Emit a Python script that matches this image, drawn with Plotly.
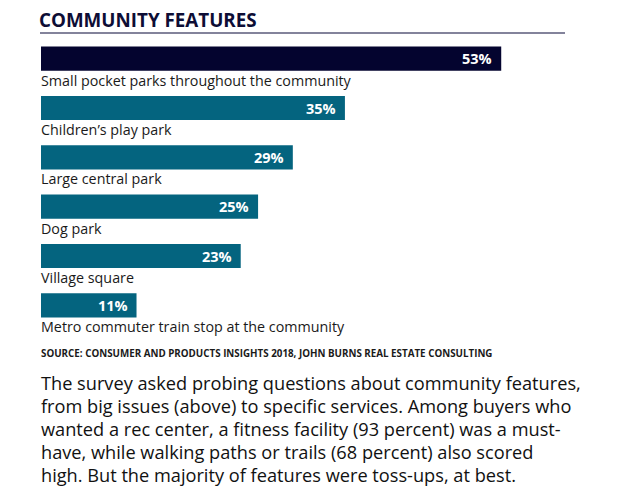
import plotly.graph_objects as go

categories = [
    "Small pocket parks throughout the community",
    "Children\u2019s play park",
    "Large central park",
    "Dog park",
    "Village square",
    "Metro commuter train stop at the community",
]
values = [53, 35, 29, 25, 23, 11]
value_labels = ["53%", "35%", "29%", "25%", "23%", "11%"]
bar_colors = ["#04042f", "#04647f", "#04647f", "#04647f", "#04647f", "#04647f"]

title_text = "COMMUNITY FEATURES"
source_text = "SOURCE: CONSUMER AND PRODUCTS INSIGHTS 2018, JOHN BURNS REAL ESTATE CONSULTING"
paragraph_lines = [
    "The survey asked probing questions about community features,",
    "from big issues (above) to specific services. Among buyers who",
    "wanted a rec center, a fitness facility (93 percent) was a must-",
    "have, while walking paths or trails (68 percent) also scored",
    "high. But the majority of features were toss-ups, at best.",
]

FONT = "Open Sans"
OFF = 8  # page body margin
W, H = 618, 495
ml, mr, mt, mb = 33, 64, 26, 173
pw = W - ml - mr
ph = H - mt - mb

ys = list(range(len(categories)))

fig = go.Figure(go.Bar(
    x=values, y=ys, orientation="h",
    marker=dict(color=bar_colors, line=dict(width=0)),
    width=0.49,
    hoverinfo="skip",
))

annotations = []
for y, c, v, t in zip(ys, categories, values, value_labels):
    annotations.append(dict(
        x=0, y=y, xref="x", yref="y", text=c, showarrow=False,
        xanchor="left", yanchor="middle", yshift=-21.5, xshift=-2,
        font=dict(family=FONT, size=14.3, color="#1a1a1a"),
    ))
    annotations.append(dict(
        x=v, y=y, xref="x", yref="y", text="<b>" + t + "</b>", showarrow=False,
        xanchor="right", yanchor="middle", xshift=-7, yshift=0,
        font=dict(family=FONT, size=14.5, color="white"),
    ))

def px_x(p):
    return (p - OFF - ml) / pw

def px_y(p):
    return 1 - (p - OFF - mt) / ph

annotations.append(dict(
    x=px_x(38), y=px_y(20), xref="paper", yref="paper", text="<b>" + title_text + "</b>",
    showarrow=False, xanchor="left", yanchor="middle", borderpad=0,
    font=dict(family=FONT, size=18.8, color="#0d0d35"),
))
annotations.append(dict(
    x=px_x(39), y=px_y(353), xref="paper", yref="paper", text="<b>" + source_text + "</b>",
    showarrow=False, xanchor="left", yanchor="middle",
    font=dict(family=FONT, size=9.8, color="#1a1a1a"),
))
for i, line in enumerate(paragraph_lines):
    annotations.append(dict(
        x=px_x(39), y=px_y(383 + 23 * i), xref="paper", yref="paper", text=line,
        showarrow=False, xanchor="left", yanchor="middle", align="left",
        font=dict(family=FONT, size=18.2, color="#111111", weight=500),
    ))

fig.update_layout(
    width=W, height=H,
    margin=dict(l=ml, r=mr, t=mt, b=mb, pad=0),
    paper_bgcolor="white", plot_bgcolor="white",
    showlegend=False,
    xaxis=dict(range=[0, 60], visible=False, fixedrange=True),
    yaxis=dict(range=[5.5, -0.5], visible=False, fixedrange=True),
    annotations=annotations,
    shapes=[dict(type="line", xref="paper", yref="paper",
                 x0=px_x(40), x1=px_x(565), y0=px_y(33), y1=px_y(33),
                 line=dict(color="#5a5a7a", width=1.5))],
)

fig.write_html("out.html")
